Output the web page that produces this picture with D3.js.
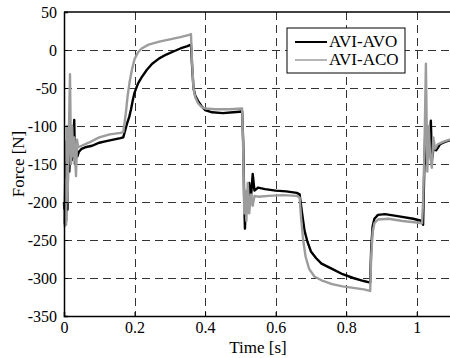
<!DOCTYPE html>
<html>
<head>
<meta charset="utf-8">
<script src="https://cdn.jsdelivr.net/npm/d3@7"></script>
<style>
  body { margin: 0; background: #fff; }
  svg text { font-family: "Liberation Serif", "Times New Roman", Times, serif; }
</style>
</head>
<body>
<div id="chart"></div>
<script>
// time [s], force [N]
const avoTime = [0.000, 0.002, 0.004, 0.006, 0.008, 0.010, 0.012, 0.015, 0.018, 0.022, 0.026, 0.029, 0.031, 0.034, 0.038, 0.042, 0.05, 0.06, 0.08, 0.10, 0.12, 0.14, 0.16, 0.168, 0.172, 0.178, 0.185, 0.19, 0.195, 0.2, 0.21, 0.22, 0.235, 0.25, 0.27, 0.29, 0.31, 0.33, 0.35, 0.36, 0.363, 0.367, 0.372, 0.38, 0.39, 0.40, 0.42, 0.45, 0.48, 0.505, 0.508, 0.511, 0.513, 0.516, 0.52, 0.525, 0.53, 0.535, 0.54, 0.55, 0.57, 0.60, 0.63, 0.66, 0.668, 0.675, 0.682, 0.69, 0.70, 0.715, 0.73, 0.76, 0.79, 0.82, 0.85, 0.868, 0.871, 0.875, 0.88, 0.89, 0.91, 0.95, 0.99, 1.015, 1.018, 1.021, 1.024, 1.028, 1.032, 1.036, 1.04, 1.043, 1.048, 1.055, 1.066, 1.08, 1.1];
const avoForce = [-200, -228, -150, -225, -120, -210, -125, -160, -130, -145, -125, -92, -150, -128, -140, -134, -130, -128, -126, -122, -120, -118, -116, -115, -108, -98, -88, -78, -66, -56, -44, -36, -26, -18, -11, -6, -2, 2, 5, 7, -20, -50, -60, -67, -74, -79, -82, -83, -82, -81, -120, -200, -235, -190, -205, -175, -195, -163, -185, -181, -183, -185, -186, -188, -190, -215, -238, -252, -265, -274, -281, -288, -295, -300, -304, -306, -260, -232, -222, -217, -216, -219, -222, -225, -230, -166, -110, -150, -120, -140, -93, -145, -128, -132, -124, -121, -118];

const acoTime = [0.000, 0.002, 0.004, 0.006, 0.008, 0.010, 0.013, 0.017, 0.020, 0.023, 0.026, 0.029, 0.031, 0.034, 0.037, 0.04, 0.05, 0.07, 0.10, 0.13, 0.16, 0.168, 0.172, 0.176, 0.18, 0.186, 0.193, 0.2, 0.21, 0.22, 0.24, 0.27, 0.30, 0.33, 0.355, 0.36, 0.363, 0.367, 0.372, 0.38, 0.39, 0.40, 0.43, 0.47, 0.505, 0.508, 0.511, 0.514, 0.517, 0.521, 0.525, 0.53, 0.535, 0.54, 0.55, 0.58, 0.62, 0.66, 0.668, 0.672, 0.678, 0.685, 0.695, 0.71, 0.73, 0.76, 0.79, 0.82, 0.85, 0.868, 0.871, 0.875, 0.88, 0.89, 0.92, 0.96, 1.0, 1.015, 1.018, 1.022, 1.026, 1.030, 1.034, 1.038, 1.043, 1.047, 1.052, 1.06, 1.07, 1.08, 1.1];
const acoForce = [-210, -232, -170, -230, -100, -200, -130, -32, -150, -100, -140, -115, -135, -166, -118, -128, -126, -122, -115, -111, -109, -108, -95, -80, -62, -42, -25, -12, -3, 2, 7, 11, 14, 17, 20, 21, -15, -50, -62, -70, -75, -77, -78, -78, -77, -130, -215, -185, -225, -175, -215, -190, -205, -192, -193, -192, -191, -192, -194, -220, -250, -272, -288, -298, -303, -308, -311, -313, -315, -317, -270, -240, -228, -223, -222, -225, -227, -228, -200, -130, -18, -160, -100, -140, -155, -115, -130, -124, -122, -120, -117];

const xTicks = [0, 0.2, 0.4, 0.6, 0.8, 1];
const yTicks = [-350, -300, -250, -200, -150, -100, -50, 0, 50];
const seriesNames = ["AVI-AVO", "AVI-ACO"];
const seriesColors = ["#000000", "#9c9c9c"];

const width = 450, height = 358;
const margin = { top: 12, right: -2, bottom: 42, left: 64 };
const serif = "Liberation Serif";

const svg = d3.select("#chart").append("svg")
    .attr("width", width)
    .attr("height", height)
    .style("display", "block");

const x = d3.scaleLinear().domain([0, 1.1]).range([margin.left, width - margin.right]);
const y = d3.scaleLinear().domain([-350, 50]).range([height - margin.bottom, margin.top]);

// dashed grid
const grid = svg.append("g")
    .attr("stroke", "#333")
    .attr("stroke-width", 1)
    .attr("stroke-dasharray", "8,5");

grid.selectAll("line.gx")
    .data(xTicks.filter(d => d > 0))
    .enter().append("line")
    .attr("class", "gx")
    .attr("x1", d => Math.round(x(d)) + 0.5)
    .attr("x2", d => Math.round(x(d)) + 0.5)
    .attr("y1", y(50))
    .attr("y2", y(-350));

grid.selectAll("line.gy")
    .data(yTicks.filter(d => d > -350 && d < 50))
    .enter().append("line")
    .attr("class", "gy")
    .attr("x1", x(0))
    .attr("x2", x(1.1))
    .attr("y1", d => Math.round(y(d)) + 0.5)
    .attr("y2", d => Math.round(y(d)) + 0.5);

// data lines
const series = [
    avoTime.map((t, i) => [t, avoForce[i]]),
    acoTime.map((t, i) => [t, acoForce[i]])
];

const line = d3.line()
    .x(d => x(d[0]))
    .y(d => y(d[1]));

series.forEach((s, i) => {
    svg.append("path")
        .datum(s)
        .attr("fill", "none")
        .attr("stroke", seriesColors[i])
        .attr("stroke-width", 2.4)
        .attr("stroke-linejoin", "round")
        .attr("d", line);
});

// axes
const xAxis = svg.append("g")
    .attr("transform", `translate(0, ${y(-350)})`)
    .call(d3.axisBottom(x).tickValues(xTicks).tickSize(-4).tickPadding(6).tickFormat(d => String(d)));

const yAxis = svg.append("g")
    .attr("transform", `translate(${x(0)}, 0)`)
    .call(d3.axisLeft(y).tickValues(yTicks).tickSize(-4).tickPadding(7).tickFormat(d => String(d)));

[xAxis, yAxis].forEach(a => {
    a.attr("font-family", serif).attr("font-size", 16);
    a.select(".domain").attr("stroke", "#000").attr("stroke-width", 1.5);
    a.selectAll(".tick line").attr("stroke", "#000");
    a.selectAll(".tick text")
        .attr("fill", "#000")
        .attr("font-family", serif)
        .attr("font-size", 16);
});

// top border
svg.append("line")
    .attr("x1", x(0)).attr("x2", x(1.1))
    .attr("y1", y(50)).attr("y2", y(50))
    .attr("stroke", "#000")
    .attr("stroke-width", 1.5);

// axis labels
svg.append("text")
    .attr("x", (x(0) + x(1.1)) / 2)
    .attr("y", 353)
    .attr("text-anchor", "middle")
    .attr("font-family", serif)
    .attr("font-size", 17)
    .text("Time [s]");

svg.append("text")
    .attr("transform", `translate(24, ${(y(50) + y(-350)) / 2}) rotate(-90)`)
    .attr("text-anchor", "middle")
    .attr("font-family", serif)
    .attr("font-size", 17)
    .text("Force [N]");

// legend
const legend = svg.append("g").attr("transform", "translate(287, 28)");
legend.append("rect")
    .attr("width", 118)
    .attr("height", 45)
    .attr("fill", "#fff")
    .attr("stroke", "#000")
    .attr("stroke-width", 1);

seriesNames.forEach((name, i) => {
    const ly = 14 + i * 18;
    legend.append("line")
        .attr("x1", 8).attr("x2", 40)
        .attr("y1", ly).attr("y2", ly)
        .attr("stroke", seriesColors[i])
        .attr("stroke-width", i === 0 ? 2 : 1.5);
    legend.append("text")
        .attr("x", 42)
        .attr("y", ly + 5)
        .attr("font-family", serif)
        .attr("font-size", 17)
        .text(name);
});
</script>
</body>
</html>
